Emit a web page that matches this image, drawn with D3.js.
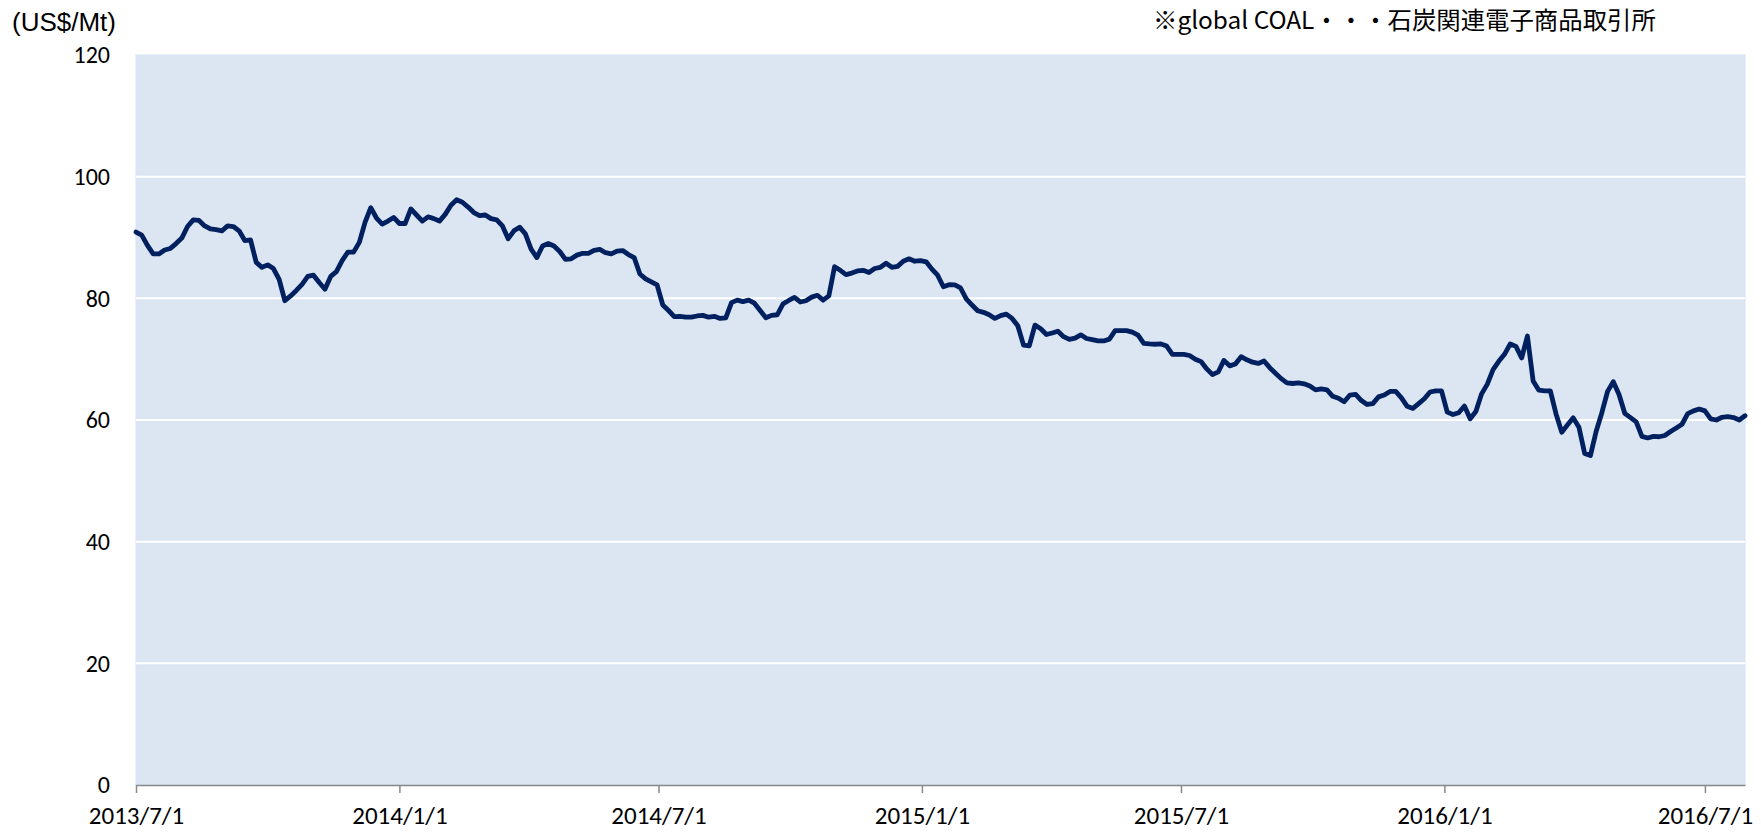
<!DOCTYPE html>
<html>
<head>
<meta charset="utf-8">
<script src="https://cdn.jsdelivr.net/npm/d3@7"></script>
<style>
  body { margin: 0; background: #ffffff; }
</style>
</head>
<body>
<div id="chart"></div>
<script>
// global COAL price, sampled every 4 days from 2013/7/1
var startDate = "2013/7/1";
var stepDays = 4;
var prices = [
  90.9, 90.4, 88.7, 87.3, 87.3, 87.95, 88.2, 89.0, 89.9, 91.8,
  92.9, 92.8, 91.9, 91.4, 91.3, 91.1, 91.9, 91.8, 91.1, 89.5,
  89.6, 85.9, 85.1, 85.5, 84.9, 83.1, 79.6, 80.4, 81.3, 82.3,
  83.6, 83.8, 82.6, 81.5, 83.6, 84.4, 86.2, 87.6, 87.6, 89.2,
  92.5, 94.9, 93.2, 92.2, 92.7, 93.3, 92.3, 92.3, 94.7, 93.7,
  92.7, 93.4, 93.1, 92.7, 93.8, 95.3, 96.2, 95.8, 95.0, 94.1,
  93.6, 93.7, 93.1, 92.9, 91.9, 89.8, 91.1, 91.7, 90.6, 88.1,
  86.7, 88.6, 89.0, 88.6, 87.7, 86.4, 86.5, 87.1, 87.4, 87.4,
  87.9, 88.05, 87.5, 87.3, 87.75, 87.85, 87.2, 86.7, 84.0, 83.2,
  82.7, 82.2, 78.9, 78.0, 77.0, 77.05, 76.9, 76.9, 77.1, 77.2,
  76.9, 77.05, 76.7, 76.8, 79.3, 79.7, 79.45, 79.7, 79.2, 78.0,
  76.8, 77.2, 77.3, 79.1, 79.65, 80.15, 79.4, 79.6, 80.2, 80.5,
  79.7, 80.4, 85.2, 84.6, 83.9, 84.15, 84.5, 84.6, 84.25, 84.9,
  85.1, 85.76, 85.1, 85.25, 86.1, 86.5, 86.1, 86.2, 86.0, 84.8,
  83.8, 81.9, 82.25, 82.2, 81.7, 79.9, 78.9, 77.95, 77.7, 77.3,
  76.7, 77.15, 77.4, 76.7, 75.5, 72.3, 72.2, 75.6, 75.0, 74.05,
  74.3, 74.6, 73.7, 73.25, 73.45, 74.0, 73.4, 73.2, 73.0, 73.0,
  73.3, 74.7, 74.7, 74.7, 74.45, 73.95, 72.6, 72.5, 72.45, 72.5,
  72.15, 70.8, 70.8, 70.8, 70.6, 70.0, 69.6, 68.4, 67.45, 67.9,
  69.8, 68.9, 69.2, 70.4, 69.9, 69.5, 69.3, 69.7, 68.6, 67.7,
  66.8, 66.1, 66.0, 66.1, 65.95, 65.6, 64.95, 65.1, 64.95, 63.9,
  63.57, 63.0, 64.1, 64.2, 63.2, 62.55, 62.7, 63.8, 64.1, 64.7,
  64.7, 63.65, 62.25, 61.9, 62.7, 63.5, 64.6, 64.8, 64.8, 61.3,
  60.9, 61.2, 62.3, 60.2, 61.4, 64.3, 65.9, 68.3, 69.65, 70.8,
  72.5, 72.1, 70.2, 73.8, 66.4, 64.9, 64.8, 64.8, 61.0, 58.0,
  59.2, 60.35, 58.8, 54.5, 54.15, 58.1, 61.2, 64.7, 66.3, 64.2,
  61.1, 60.4, 59.7, 57.3, 57.05, 57.3, 57.25, 57.45, 58.1, 58.7,
  59.3, 61.05, 61.5, 61.8, 61.5, 60.2, 60.0, 60.45, 60.55, 60.4,
  60.0, 60.7
];
var yTicks = [0, 20, 40, 60, 80, 100, 120];
var xTickDates = ["2013/7/1", "2014/1/1", "2014/7/1", "2015/1/1", "2015/7/1", "2016/1/1", "2016/7/1"];
var unitLabel = "(US$/Mt)";
var noteLabel = "※global COAL・・・石炭関連電子商品取引所";

var size = {
  width: 1761,
  height: 832,
  left: 136,
  right: 1745,
  top: 55,
  bottom: 785
};
var tickFont = "Carlito, Lato, 'Liberation Sans', Arial, sans-serif";

var parseDate = d3.timeParse("%Y/%-m/%-d");
var fmtDate = d3.timeFormat("%Y/%-m/%-d");
var t0 = parseDate(startDate);
var series = prices.map(function(v, i) {
  return { date: d3.timeDay.offset(t0, i * stepDays), value: v };
});

var svg = d3.select("#chart").append("svg")
  .attr("width", size.width)
  .attr("height", size.height);

var x = d3.scaleTime()
  .domain([t0, series[series.length - 1].date])
  .range([size.left, size.right]);

var y = d3.scaleLinear()
  .domain([0, 120])
  .range([size.bottom, size.top]);

// plot area
svg.append("rect")
  .attr("x", size.left)
  .attr("y", size.top)
  .attr("width", size.right - size.left)
  .attr("height", size.bottom - size.top)
  .attr("fill", "#dce6f2")
  .attr("stroke", "#d3e3f5")
  .attr("stroke-width", 1);

// gridlines
svg.append("g")
  .selectAll("line")
  .data(yTicks.filter(function(d) { return d > 0 && d < 120; }))
  .enter()
  .append("line")
  .attr("x1", size.left)
  .attr("x2", size.right)
  .attr("y1", function(d) { return y(d); })
  .attr("y2", function(d) { return y(d); })
  .attr("stroke", "#ffffff")
  .attr("stroke-width", 2);

// y axis labels
var yAxis = svg.append("g")
  .attr("transform", "translate(" + (size.left - 26) + ",0)")
  .call(d3.axisLeft(y).tickValues(yTicks).tickSize(0).tickPadding(0));
yAxis.select(".domain").remove();
yAxis.selectAll("text")
  .attr("font-size", 24)
  .style("font-family", tickFont)
  .attr("fill", "#000");

// x axis
var xAxis = svg.append("g")
  .attr("transform", "translate(0," + size.bottom + ")")
  .call(d3.axisBottom(x)
    .tickValues(xTickDates.map(parseDate))
    .tickFormat(fmtDate)
    .tickSizeInner(8)
    .tickSizeOuter(0)
    .tickPadding(13));
xAxis.select(".domain")
  .attr("stroke", "#898989")
  .attr("stroke-width", 1.5);
xAxis.selectAll(".tick line")
  .attr("stroke", "#898989")
  .attr("stroke-width", 1.5);
xAxis.selectAll("text")
  .attr("font-size", 25)
  .style("font-family", tickFont)
  .attr("fill", "#000");

// price line
var line = d3.line()
  .x(function(d) { return x(d.date); })
  .y(function(d) { return y(d.value); });

svg.append("path")
  .datum(series)
  .attr("d", line)
  .attr("fill", "none")
  .attr("stroke", "#002060")
  .attr("stroke-width", 4.8)
  .attr("stroke-linejoin", "round")
  .attr("stroke-linecap", "round");

// unit and note
svg.append("text")
  .attr("x", 12)
  .attr("y", 31)
  .attr("font-size", 26)
  .style("font-family", "'Liberation Sans', Arial, sans-serif")
  .text(unitLabel);

svg.append("text")
  .attr("x", 1153)
  .attr("y", 29)
  .attr("font-size", 24.4)
  .style("font-family", "'Noto Sans CJK JP', sans-serif")
  .text(noteLabel);
</script>
</body>
</html>
